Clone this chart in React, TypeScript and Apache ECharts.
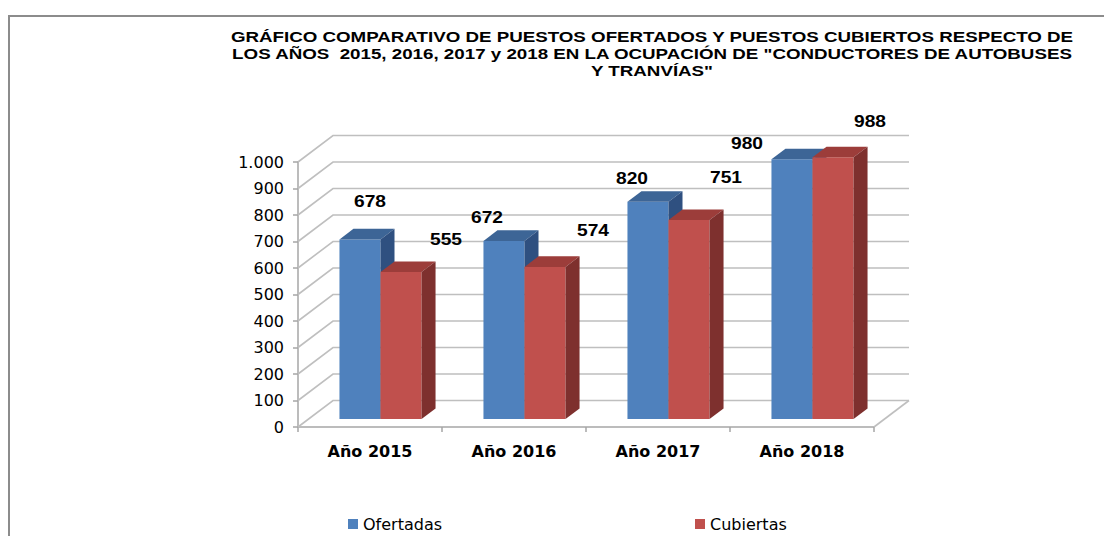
import React, { useEffect, useRef } from "react";
import * as echarts from "echarts";

const categories = ["Año 2015", "Año 2016", "Año 2017", "Año 2018"];
const ofertadas = [678, 672, 820, 980];
const cubiertas = [555, 574, 751, 988];
const yTicks = [0, 100, 200, 300, 400, 500, 600, 700, 800, 900, 1000];
const seriesNames = ["Ofertadas", "Cubiertas"];
const titleLines = [
  "GRÁFICO COMPARATIVO DE PUESTOS OFERTADOS Y PUESTOS CUBIERTOS RESPECTO DE",
  "LOS AÑOS  2015, 2016, 2017 y 2018 EN LA OCUPACIÓN DE \"CONDUCTORES DE AUTOBUSES",
  "Y TRANVÍAS\"",
];

// layout: label nudges (pixels, relative to top-front-centre of each bar), mimicking Excel's 3D label placement
const ofertadasLabelNudge = [[10, -38], [-17, -23], [-16, -23], [-45, -16]];
const cubiertasLabelNudge = [[45, -32], [48, -36], [37, -42], [37, -36]];

const DX = 35; // depth projection
const DY = -26.5;
const Z0 = 0.3;
const ZD = 0.4;

const fmt = (v: number) => String(v).replace(/\B(?=(\d{3})+(?!\d))/g, ".");

function makeBarRender(side: number, front: string, topC: string, sideC: string, nudges: number[][]) {
  return (params: any, api: any) => {
    const i = api.value(0);
    const v = api.value(1);
    const top = api.coord([i, v]);
    const base = api.coord([i, 0]);
    const catW = api.size([1, 0])[0];
    const w = catW * 0.285;
    const x0 = top[0] - w + side * w + DX * Z0;
    const yT = top[1] + DY * Z0;
    const yB = base[1] + DY * Z0;
    const dx = DX * ZD;
    const dy = DY * ZD;
    const n = nudges[params.dataIndex] || [0, -20];
    return {
      type: "group",
      children: [
        {
          type: "rect",
          shape: { x: x0, y: yT, width: w, height: yB - yT },
          style: { fill: front },
        },
        {
          type: "polygon",
          shape: {
            points: [
              [x0, yT],
              [x0 + w, yT],
              [x0 + w + dx, yT + dy],
              [x0 + dx, yT + dy],
            ],
          },
          style: { fill: topC },
        },
        {
          type: "polygon",
          shape: {
            points: [
              [x0 + w, yT],
              [x0 + w + dx, yT + dy],
              [x0 + w + dx, yB + dy],
              [x0 + w, yB],
            ],
          },
          style: { fill: sideC },
        },
        {
          type: "text",
          x: x0 + w / 2 + n[0],
          y: yT + n[1],
          scaleX: 1.2,
          z2: 100,
          style: {
            text: String(v),
            align: "center",
            verticalAlign: "middle",
            fontSize: 16,
            fontWeight: "bold",
            fontFamily: "'Liberation Sans', Arial, sans-serif",
            fill: "#000",
          },
        },
      ],
    };
  };
}

function wallsRender(params: any, api: any) {
  const cs = params.coordSys;
  const v = api.value(1);
  const y = api.coord([0, v])[1];
  const x0 = cs.x;
  const x1 = cs.x + cs.width;
  const children: any[] = [
    {
      type: "polyline",
      shape: {
        points: [
          [x0, y],
          [x0 + DX, y + DY],
          [x1 + DX, y + DY],
        ],
      },
      style: { stroke: "#BFBFBF", lineWidth: 1.6, fill: "none" },
    },
  ];
  if (v === 0) {
    children.push({
      type: "line",
      shape: { x1: x1, y1: y, x2: x1 + DX, y2: y + DY },
      style: { stroke: "#BFBFBF", lineWidth: 1.6 },
    });
  }
  return { type: "group", children };
}

export default function App() {
  const ref = useRef<HTMLDivElement>(null);
  useEffect(() => {
    if (!ref.current) return;
    const chart = echarts.init(ref.current, undefined, { renderer: "svg" });
    const axisGray = "#A6A6A6";
    chart.setOption({
      animation: false,
      backgroundColor: "#fff",
      grid: { left: 298, right: 230, top: 162, bottom: 109 },
      legend: {
        data: seriesNames,
        left: 343,
        top: 511,
        icon: "rect",
        itemWidth: 10,
        itemHeight: 10,
        itemGap: 253,
        textStyle: { fontSize: 16, fontFamily: "'DejaVu Sans', sans-serif", color: "#000" },
      },
      xAxis: {
        type: "category",
        data: categories,
        axisLine: { show: true, lineStyle: { color: axisGray, width: 1.5 } },
        axisTick: { show: true, length: 5, lineStyle: { color: axisGray, width: 1.5 } },
        axisLabel: {
          margin: 16,
          color: "#000",
          fontSize: 16,
          fontWeight: "bold",
          fontFamily: "'DejaVu Sans', sans-serif",
        },
        splitLine: { show: false },
      },
      yAxis: {
        type: "value",
        min: 0,
        max: 1000,
        interval: 100,
        axisLine: { show: true, lineStyle: { color: axisGray, width: 1.5 } },
        axisTick: { show: true, length: 5, lineStyle: { color: axisGray, width: 1.5 } },
        axisLabel: {
          margin: 14,
          color: "#000",
          fontSize: 16,
          fontFamily: "'DejaVu Sans', sans-serif",
          formatter: (v: number) => fmt(v),
          padding: [4, 0, 0, 0],
        },
        splitLine: { show: false },
      },
      graphic: [
        {
          type: "rect",
          shape: { x: 9, y: 16, width: 1200, height: 700 },
          style: { fill: "none", stroke: "#8C8C8C", lineWidth: 2 },
          silent: true,
        },
        {
          type: "text",
          x: 652,
          y: 54,
          scaleX: 1.21,
          style: {
            text: titleLines.join("\n"),
            align: "center",
            verticalAlign: "middle",
            lineHeight: 17,
            fontSize: 15.5,
            fontWeight: "bold",
            fontFamily: "'Liberation Sans', Arial, sans-serif",
            fill: "#000",
          },
        },
      ],
      series: [
        {
          type: "custom",
          name: "walls",
          silent: true,
          z: 1,
          renderItem: wallsRender,
          data: yTicks.map((v) => [0, v]),
        },
        {
          type: "custom",
          name: seriesNames[0],
          z: 2,
          itemStyle: { color: "#4F81BD" },
          renderItem: makeBarRender(0, "#4F81BD", "#3D6596", "#2F5080", ofertadasLabelNudge),
          data: ofertadas.map((v, i) => [i, v]),
        },
        {
          type: "custom",
          name: seriesNames[1],
          z: 2,
          itemStyle: { color: "#C0504D" },
          renderItem: makeBarRender(1, "#C0504D", "#9C3D3A", "#7E302E", cubiertasLabelNudge),
          data: cubiertas.map((v, i) => [i, v]),
        },
      ],
    });
    return () => chart.dispose();
  }, []);
  return (
    <div
      ref={ref}
      style={{ position: "fixed", left: 0, top: 0, width: 1104, height: 536, background: "#fff" }}
    />
  );
}
